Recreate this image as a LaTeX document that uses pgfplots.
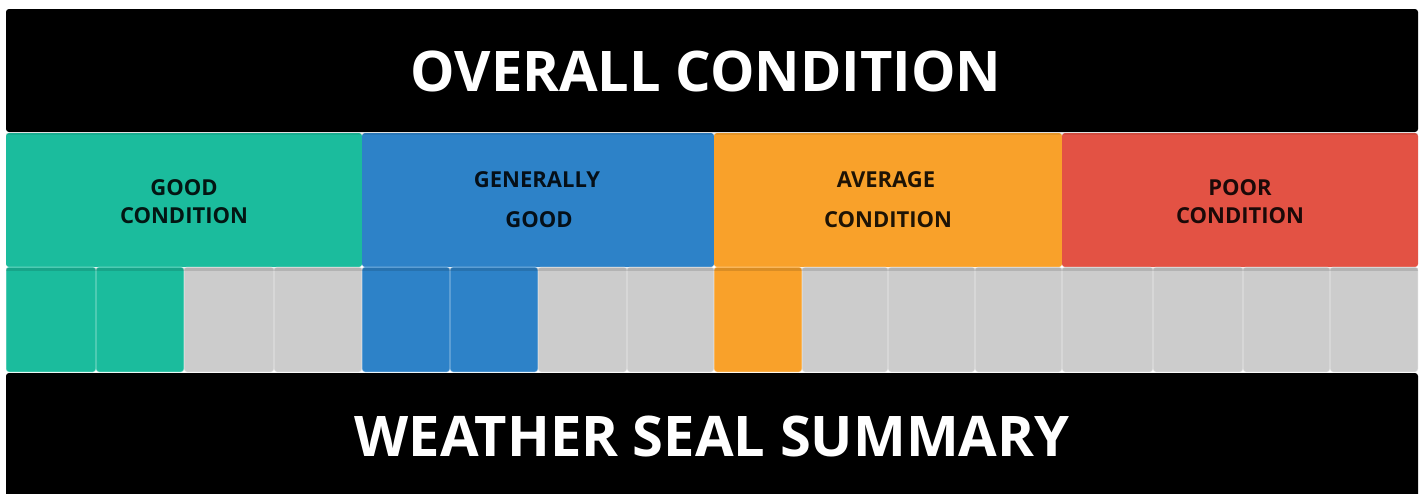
\documentclass[border=0pt]{standalone}
\usepackage{pgfplots}
\pgfplotsset{compat=1.18}
\usepackage{fontspec}
\setmainfont{Open Sans}
\definecolor{cteal}{RGB}{27,188,157}
\definecolor{cblue}{RGB}{45,130,200}
\definecolor{corange}{RGB}{249,161,42}
\definecolor{cred}{RGB}{227,82,68}
\definecolor{cgray}{RGB}{204,204,204}
\newcommand{\rect}[5]{\addplot[fill=#5, draw=none, rounded corners=1.5pt] coordinates {(#1,#2)(#3,#2)(#3,#4)(#1,#4)} -- cycle;}
\newcommand{\cellr}[3]{\addplot[fill=#3, draw=white, draw opacity=0.35, line width=0.5pt, rounded corners=1.5pt] coordinates {(#1,267)(#2,267)(#2,372)(#1,372)} -- cycle;}
\begin{document}
\begin{tikzpicture}
\begin{axis}[
  scale only axis, width=712pt, height=246.5pt,
  xmin=0, xmax=1424, ymin=0, ymax=493, y dir=reverse,
  hide axis, clip=true,
]
\path (rel axis cs:0,0) rectangle (rel axis cs:1,1);
% top title bar
\rect{6}{9}{1418}{132}{black}
% condition bands
\rect{6}{133}{362}{267}{cteal}
\rect{362}{133}{714}{267}{cblue}
\rect{714}{133}{1062}{267}{corange}
\rect{1062}{133}{1418}{267}{cred}
\addplot[fill=black, fill opacity=0.08, draw=none] coordinates {(6,133)(1418,133)(1418,135)(6,135)} -- cycle;
% score cells (filled = rating reached)
\cellr{6}{96}{cteal}
\cellr{96}{184}{cteal}
\cellr{184}{274}{cgray}
\cellr{274}{362}{cgray}
\cellr{362}{450}{cblue}
\cellr{450}{538}{cblue}
\cellr{538}{627}{cgray}
\cellr{627}{714}{cgray}
\cellr{714}{802}{corange}
\cellr{802}{888}{cgray}
\cellr{888}{975}{cgray}
\cellr{975}{1062}{cgray}
\cellr{1062}{1153}{cgray}
\cellr{1153}{1243}{cgray}
\cellr{1243}{1330}{cgray}
\cellr{1330}{1418}{cgray}
\addplot[fill=black, fill opacity=0.12, draw=none] coordinates {(6,268)(1418,268)(1418,270.5)(6,270.5)} -- cycle;
% bottom bar
\rect{6}{373}{1418}{510}{black}
% texts
\node[text=white, font=\fontsize{28}{32}\selectfont\bfseries, inner sep=0pt, anchor=center] at (axis cs:706,71) {OVERALL CONDITION};
\node[text=white, font=\fontsize{28}{32}\selectfont\bfseries, inner sep=0pt, anchor=center] at (axis cs:712,436.5) {WEATHER SEAL SUMMARY};
\tikzset{lab/.style={text=black, text opacity=0.88, font=\fontsize{11}{13}\selectfont\bfseries, inner sep=0pt, anchor=center}}
\node[lab] at (axis cs:184,187.5) {GOOD};
\node[lab] at (axis cs:184,215.5) {CONDITION};
\node[lab] at (axis cs:537,179.5) {GENERALLY};
\node[lab] at (axis cs:539,219.5) {GOOD};
\node[lab] at (axis cs:886,179.5) {AVERAGE};
\node[lab] at (axis cs:888,219.5) {CONDITION};
\node[lab] at (axis cs:1240,187.5) {POOR};
\node[lab] at (axis cs:1240,215.5) {CONDITION};
\end{axis}
\end{tikzpicture}
\end{document}
